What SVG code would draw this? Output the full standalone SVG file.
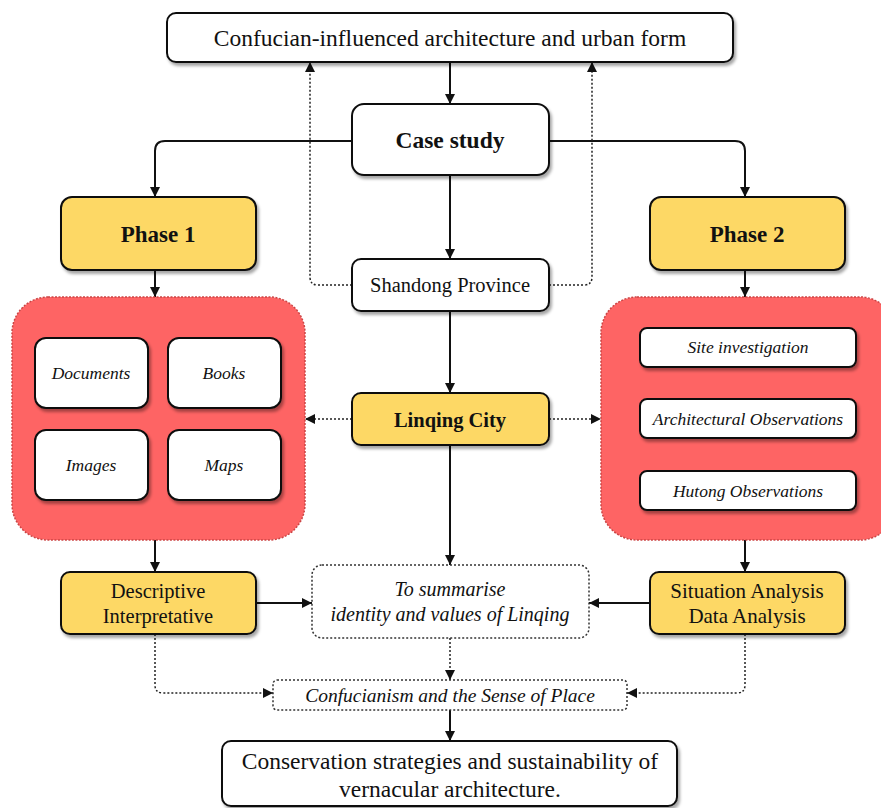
<svg xmlns="http://www.w3.org/2000/svg" width="881" height="808" viewBox="0 0 881 808">
<defs>
<filter id="sh" x="-10%" y="-10%" width="130%" height="140%">
<feDropShadow dx="2" dy="3" stdDeviation="1.5" flood-color="#000" flood-opacity="0.35"/>
</filter>
<marker id="ah" viewBox="0 0 10 10" refX="10" refY="5" markerWidth="10" markerHeight="10" markerUnits="userSpaceOnUse" orient="auto">
<path d="M0,0 L10,5 L0,10 z" fill="#111"/>
</marker>
</defs>
<style>
text{font-family:"Liberation Serif","Times New Roman",serif;fill:#111;text-anchor:middle;dominant-baseline:central}
.box{fill:#fff;stroke:#111;stroke-width:2;filter:url(#sh)}
.yel{fill:#FDD865;stroke:#111;stroke-width:2;filter:url(#sh)}
.red{fill:#FE6464;stroke:#c44;stroke-width:1.5;stroke-dasharray:2 1.5}
.dbox{fill:#fff;stroke:#333;stroke-width:1.5;stroke-dasharray:2 2}
.c{fill:none;stroke:#111;stroke-width:2}
.d{fill:none;stroke:#222;stroke-width:1.5;stroke-dasharray:2 2}
.b{font-weight:bold}
.i{font-style:italic}
</style>
<g id="connectors">
<path class="c" d="M450,62 V104" marker-end="url(#ah)"/>
<path class="c" d="M352,141 H165 Q155,141 155,151 V197" marker-end="url(#ah)"/>
<path class="c" d="M549,141 H735 Q745,141 745,151 V197" marker-end="url(#ah)"/>
<path class="d" d="M352,285 H318 Q310,285 310,277 V62" marker-end="url(#ah)"/>
<path class="d" d="M549,285 H584 Q592,285 592,277 V62" marker-end="url(#ah)"/>
<path class="c" d="M450,175 V259" marker-end="url(#ah)"/>
<path class="c" d="M450,311 V393" marker-end="url(#ah)"/>
<path class="c" d="M155,270 V297" marker-end="url(#ah)"/>
<path class="c" d="M745,270 V297" marker-end="url(#ah)"/>
<path class="d" d="M352,419 H305" marker-end="url(#ah)"/>
<path class="d" d="M549,419 H601" marker-end="url(#ah)"/>
<path class="c" d="M155,540 V572" marker-end="url(#ah)"/>
<path class="c" d="M745,540 V572" marker-end="url(#ah)"/>
<path class="c" d="M450,445 V565" marker-end="url(#ah)"/>
<path class="c" d="M256,603 H312" marker-end="url(#ah)"/>
<path class="c" d="M650,603 H589" marker-end="url(#ah)"/>
<path class="d" d="M450,638 V680" marker-end="url(#ah)"/>
<path class="d" d="M155,634 V685 Q155,693 163,693 H273" marker-end="url(#ah)"/>
<path class="d" d="M745,634 V685 Q745,693 737,693 H627" marker-end="url(#ah)"/>
<path class="c" d="M450,710 V741" marker-end="url(#ah)"/>
</g>
<g id="top"><rect class="box" x="167" y="13" width="566" height="49" rx="9"/><text x="450" y="38" font-size="23.5">Confucian-influenced architecture and urban form</text></g>
<g id="case"><rect class="box" x="352" y="104" width="197" height="71" rx="12"/><text class="b" x="450" y="140" font-size="23.5">Case study</text></g>
<g id="phase1"><rect class="yel" x="61" y="197" width="195" height="73" rx="11"/><text class="b" x="158" y="234" font-size="23">Phase 1</text></g>
<g id="phase2"><rect class="yel" x="650" y="197" width="195" height="73" rx="11"/><text class="b" x="747" y="234" font-size="23">Phase 2</text></g>
<g id="shandong"><rect class="box" x="352" y="259" width="197" height="52" rx="9"/><text x="450" y="285" font-size="20.5">Shandong Province</text></g>
<g id="linqing"><rect class="yel" x="352" y="393" width="197" height="52" rx="9"/><text class="b" x="450" y="420" font-size="20.5">Linqing City</text></g>
<g id="sources"><rect class="red" x="12" y="297" width="293" height="243" rx="36"/>
<rect class="box" x="35" y="338" width="113" height="70" rx="11"/><text class="i" x="91" y="373" font-size="17.5">Documents</text>
<rect class="box" x="168" y="338" width="113" height="70" rx="11"/><text class="i" x="224" y="373" font-size="17.5">Books</text>
<rect class="box" x="35" y="430" width="113" height="70" rx="11"/><text class="i" x="91" y="465" font-size="17.5">Images</text>
<rect class="box" x="168" y="430" width="113" height="70" rx="11"/><text class="i" x="224" y="465" font-size="17.5">Maps</text>
</g>
<g id="fieldwork"><rect class="red" x="601" y="297" width="295" height="243" rx="36"/>
<rect class="box" x="640" y="328" width="216" height="39" rx="7"/><text class="i" x="748" y="347" font-size="17.5">Site investigation</text>
<rect class="box" x="640" y="399" width="216" height="39" rx="7"/><text class="i" x="748" y="419" font-size="17.5">Architectural Observations</text>
<rect class="box" x="640" y="471" width="216" height="39" rx="7"/><text class="i" x="748" y="491" font-size="17.5">Hutong Observations</text>
</g>
<g id="descriptive"><rect class="yel" x="61" y="572" width="195" height="62" rx="9"/><text x="158" y="591" font-size="20.5">Descriptive</text><text x="158" y="616" font-size="20.5">Interpretative</text></g>
<g id="situation"><rect class="yel" x="650" y="572" width="195" height="62" rx="9"/><text x="747" y="591" font-size="21">Situation Analysis</text><text x="747" y="616" font-size="21">Data Analysis</text></g>
<g id="summarise"><rect class="dbox" x="312" y="565" width="277" height="73" rx="10"/><text class="i" x="450" y="589" font-size="20">To summarise</text><text class="i" x="450" y="614" font-size="20">identity and values of Linqing</text></g>
<g id="confucianism"><rect class="dbox" x="273" y="680" width="354" height="30" rx="4"/><text class="i" x="450" y="695" font-size="19.5">Confucianism and the Sense of Place</text></g>
<g id="conservation"><rect class="box" x="222" y="741" width="455" height="65" rx="9"/><text x="450" y="761" font-size="23.5">Conservation strategies and sustainability of</text><text x="450" y="789" font-size="23.5">vernacular architecture.</text></g>
</svg>
